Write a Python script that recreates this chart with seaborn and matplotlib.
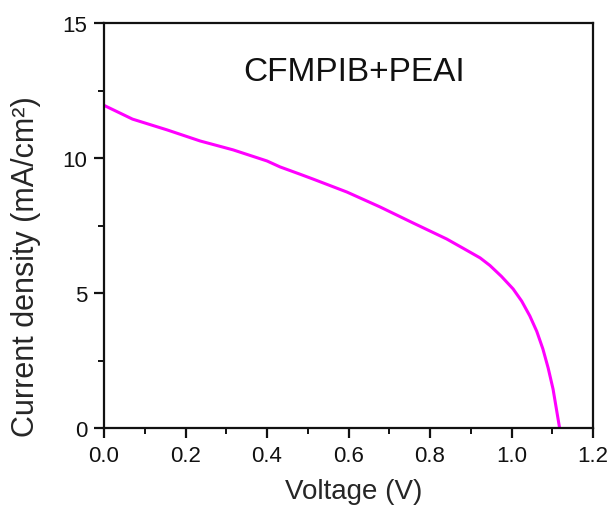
import matplotlib
matplotlib.use("Agg")
import matplotlib.pyplot as plt
from matplotlib.ticker import MultipleLocator, FormatStrFormatter
import seaborn as sns
import pandas as pd

voltage = [0.0, 0.07, 0.155, 0.236, 0.317, 0.40, 0.432, 0.481, 0.513, 0.596, 0.677,
           0.759, 0.841, 0.881, 0.923, 0.947, 0.975, 1.004, 1.025, 1.045, 1.062,
           1.077, 1.090, 1.102, 1.118]
current = [11.95, 11.44, 11.04, 10.63, 10.30, 9.89, 9.67, 9.40, 9.22, 8.74, 8.19,
           7.59, 7.00, 6.66, 6.30, 6.02, 5.62, 5.15, 4.70, 4.15, 3.58,
           2.93, 2.22, 1.44, 0.0]
label_text = "CFMPIB+PEAI"

df = pd.DataFrame({"Voltage": voltage, "Current": current})

sns.set_style("ticks")
plt.rcParams["font.family"] = ["Liberation Sans", "DejaVu Sans"]

fig = plt.figure(figsize=(6.13, 5.10), dpi=100)
ax = fig.add_axes([104/613, 81/510, (593-104)/613, (429-24)/510])

sns.lineplot(data=df, x="Voltage", y="Current", ax=ax, color="#FF00FF",
             linewidth=2.2, sort=False, estimator=None)

ax.xaxis.set_major_locator(MultipleLocator(0.2))
ax.xaxis.set_minor_locator(MultipleLocator(0.1))
ax.xaxis.set_major_formatter(FormatStrFormatter("%.1f"))
ax.yaxis.set_major_locator(MultipleLocator(5))
ax.yaxis.set_minor_locator(MultipleLocator(2.5))
ax.set_xlim(0, 1.2)
ax.set_ylim(0, 15)

for s in ax.spines.values():
    s.set_linewidth(1.6)
    s.set_color("#111111")
ax.tick_params(which="major", direction="out", length=7, width=1.6,
               labelsize=16, colors="#111111", pad=5)
ax.tick_params(which="minor", direction="out", length=4, width=1.4,
               colors="#111111")
ax.tick_params(top=False, right=False, which="both")

ax.set_xlabel("Voltage (V)", fontsize=20)
ax.set_ylabel("Current density (mA/cm²)", fontsize=22)
ax.xaxis.set_label_coords(0.511, -0.156)
ax.yaxis.set_label_coords(-0.16, 0.40)
ax.xaxis.label.set_va("center")
ax.yaxis.label.set_va("center")

ax.text(0.613, 13.2, label_text, fontsize=24, ha="center", va="center",
        color="#111111")

fig.savefig("out.png", dpi=100)
